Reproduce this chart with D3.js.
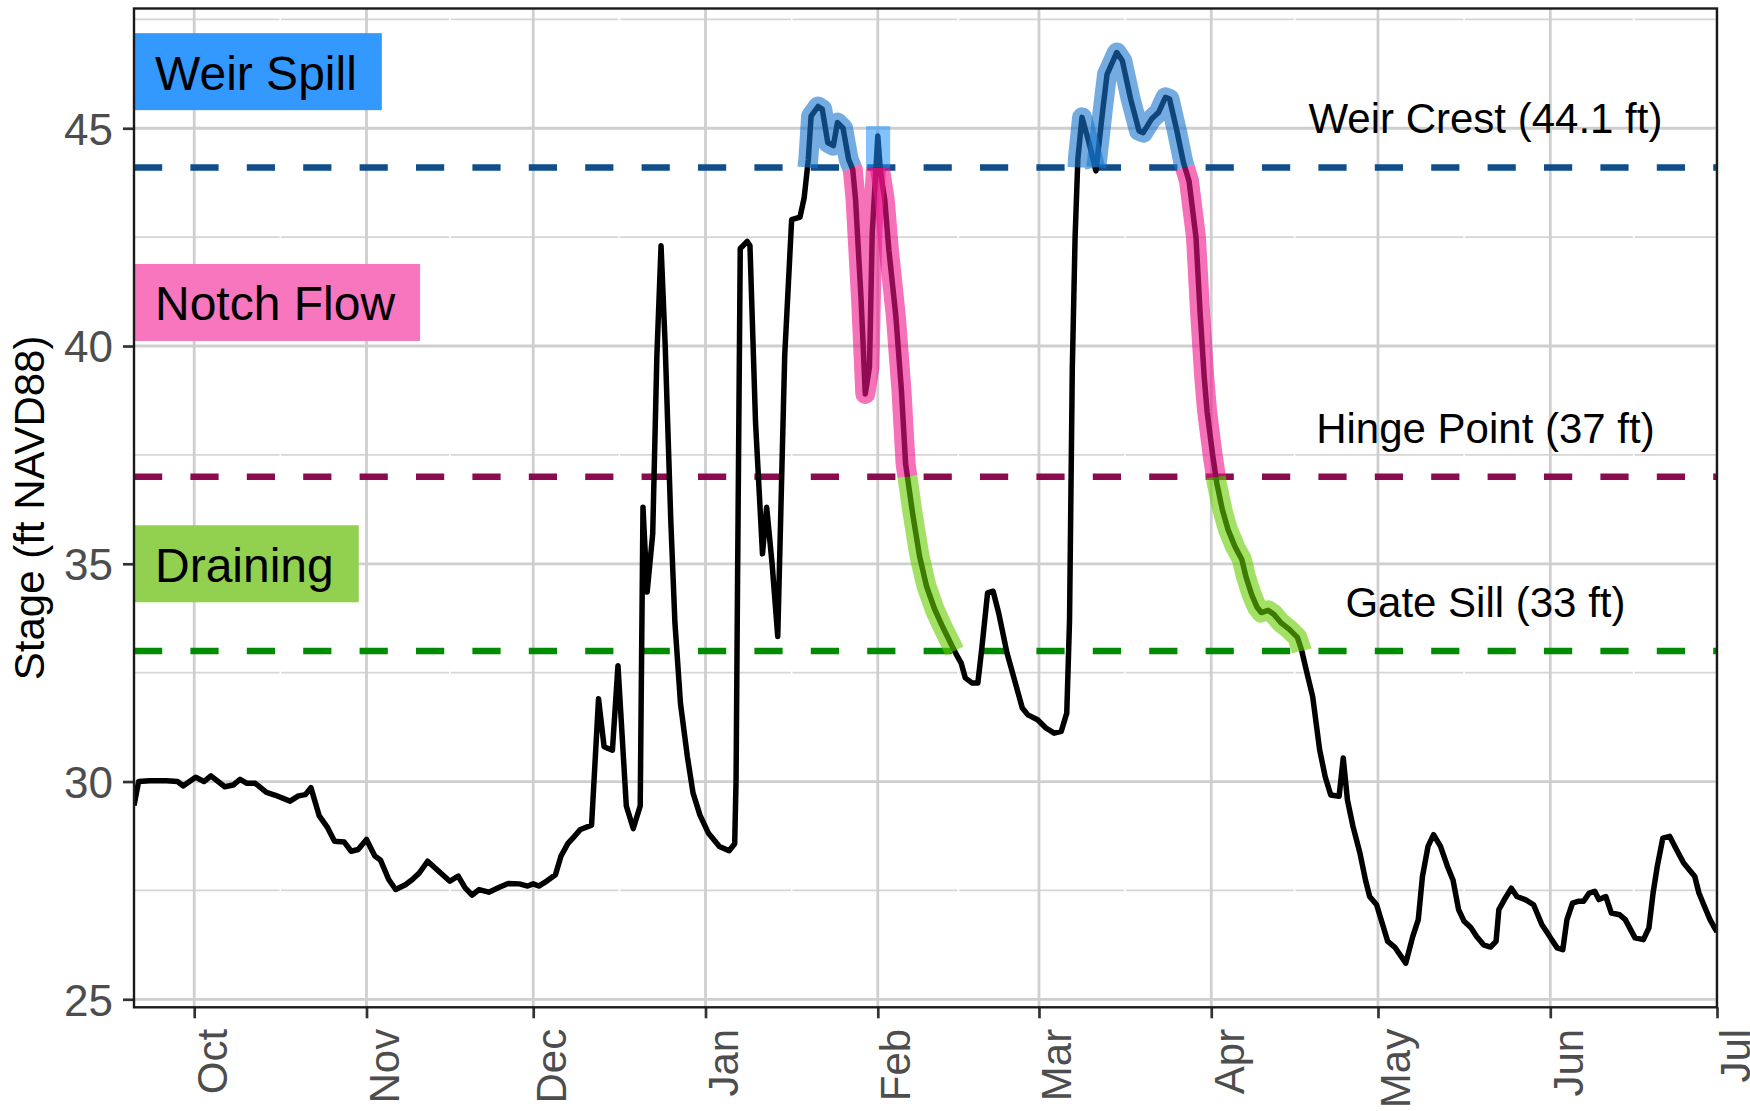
<!DOCTYPE html>
<html>
<head>
<meta charset="utf-8">
<script src="https://cdn.jsdelivr.net/npm/d3@7"></script>
<style>
  body { margin: 0; background: #ffffff; }
  svg { display: block; }
  text { font-family: "Liberation Sans", Arial, Helvetica, sans-serif; }
</style>
</head>
<body>
<svg id="chart" width="1750" height="1111"></svg>
<script>
// ---- Observed stage record (ft NAVD88), one line per month ----
const obsTime = [
  "2023-09-20 04","2023-09-21 00","2023-09-23 00","2023-09-26 00","2023-09-28 00","2023-09-29 00",
  "2023-10-01 06","2023-10-02 18","2023-10-04 00","2023-10-06 12","2023-10-08 00","2023-10-09 06","2023-10-10 12","2023-10-12 00","2023-10-14 00","2023-10-15 12","2023-10-18 06","2023-10-19 18","2023-10-21 00","2023-10-22 00","2023-10-23 12","2023-10-25 00","2023-10-26 06","2023-10-28 00","2023-10-29 06","2023-10-30 12",
  "2023-11-01 00","2023-11-02 12","2023-11-03 12","2023-11-05 00","2023-11-06 06","2023-11-08 00","2023-11-09 06","2023-11-10 12","2023-11-12 00","2023-11-14 00","2023-11-16 00","2023-11-17 12","2023-11-18 18","2023-11-20 00","2023-11-21 06","2023-11-23 00","2023-11-25 00","2023-11-26 12","2023-11-28 12","2023-11-30 00",
  "2023-12-01 00","2023-12-02 00","2023-12-03 12","2023-12-05 00","2023-12-06 00","2023-12-07 06","2023-12-08 06","2023-12-09 12","2023-12-11 12","2023-12-12 18","2023-12-13 18","2023-12-15 06","2023-12-16 06","2023-12-17 18","2023-12-19 00","2023-12-20 06","2023-12-20 18","2023-12-21 12","2023-12-22 12","2023-12-23 06","2023-12-24 00","2023-12-24 18","2023-12-25 18","2023-12-26 12","2023-12-27 12","2023-12-28 18","2023-12-29 18","2023-12-31 00",
  "2024-01-01 12","2024-01-03 12","2024-01-05 06","2024-01-06 06","2024-01-06 12","2024-01-06 18","2024-01-07 06","2024-01-08 12","2024-01-09 00","2024-01-10 00","2024-01-11 06","2024-01-12 00","2024-01-13 00","2024-01-14 00","2024-01-14 18","2024-01-15 06","2024-01-16 12","2024-01-18 00","2024-01-18 18","2024-01-19 12","2024-01-20 00","2024-01-21 06","2024-01-22 00","2024-01-23 00","2024-01-24 00","2024-01-24 18","2024-01-25 18","2024-01-26 18","2024-01-27 12","2024-01-28 00","2024-01-29 00","2024-01-29 18","2024-01-30 12","2024-01-31 00",
  "2024-02-01 00","2024-02-01 12","2024-02-02 06","2024-02-03 00","2024-02-04 06","2024-02-05 06","2024-02-06 00","2024-02-07 06","2024-02-08 12","2024-02-09 18","2024-02-11 06","2024-02-12 18","2024-02-14 06","2024-02-15 00","2024-02-16 00","2024-02-16 18","2024-02-18 00","2024-02-19 00","2024-02-19 18","2024-02-20 18","2024-02-21 18","2024-02-22 18","2024-02-24 06","2024-02-25 18","2024-02-27 00","2024-02-28 00","2024-02-29 18",
  "2024-03-02 06","2024-03-03 18","2024-03-05 00","2024-03-06 00","2024-03-06 12","2024-03-07 00","2024-03-07 12","2024-03-08 00","2024-03-08 18","2024-03-10 00","2024-03-11 06","2024-03-12 12","2024-03-13 06","2024-03-15 00","2024-03-16 00","2024-03-17 12","2024-03-19 00","2024-03-19 18","2024-03-21 06","2024-03-22 12","2024-03-23 18","2024-03-24 12","2024-03-25 18","2024-03-27 00","2024-03-28 00","2024-03-29 06","2024-03-30 00","2024-03-30 18","2024-03-31 06",
  "2024-04-01 06","2024-04-02 00","2024-04-03 00","2024-04-04 00","2024-04-05 06","2024-04-06 12","2024-04-07 06","2024-04-08 06","2024-04-09 06","2024-04-10 00","2024-04-11 06","2024-04-12 06","2024-04-13 12","2024-04-15 00","2024-04-16 12","2024-04-17 06","2024-04-18 06","2024-04-19 06","2024-04-20 12","2024-04-21 12","2024-04-22 12","2024-04-24 00","2024-04-24 18","2024-04-25 12","2024-04-26 12","2024-04-27 18","2024-04-28 18","2024-04-29 12","2024-04-30 18",
  "2024-05-01 18","2024-05-02 18","2024-05-04 00","2024-05-06 00","2024-05-07 06","2024-05-08 06","2024-05-09 00","2024-05-10 00","2024-05-11 00","2024-05-12 06","2024-05-13 12","2024-05-14 12","2024-05-15 12","2024-05-16 12","2024-05-17 18","2024-05-18 18","2024-05-20 00","2024-05-21 06","2024-05-22 06","2024-05-22 18","2024-05-23 18","2024-05-25 00","2024-05-26 00","2024-05-27 12","2024-05-29 00","2024-05-30 12","2024-05-31 12",
  "2024-06-01 06","2024-06-02 06","2024-06-03 06","2024-06-04 00","2024-06-05 00","2024-06-06 00","2024-06-07 00","2024-06-08 00","2024-06-09 00","2024-06-09 18","2024-06-11 00","2024-06-12 00","2024-06-13 12","2024-06-14 12","2024-06-16 06","2024-06-17 18","2024-06-18 18","2024-06-19 12","2024-06-20 06","2024-06-21 06","2024-06-22 12","2024-06-23 18","2024-06-25 00","2024-06-27 00","2024-06-27 18","2024-06-28 18","2024-06-29 18","2024-06-30 18",
  "2024-07-01 00"
];
const stageFt = [
  29.45, 30.00, 30.02, 30.02, 30.00, 29.90,
  30.10, 30.00, 30.13, 29.88, 29.92, 30.05, 29.96, 29.96, 29.75, 29.69, 29.55, 29.67, 29.70, 29.86, 29.21, 28.94, 28.63, 28.61, 28.40, 28.44,
  28.67, 28.29, 28.20, 27.75, 27.52, 27.63, 27.75, 27.90, 28.17, 27.94, 27.71, 27.83, 27.56, 27.39, 27.52, 27.46, 27.58, 27.66, 27.65, 27.60,
  27.65, 27.60, 27.72, 27.86, 28.29, 28.58, 28.72, 28.90, 29.00, 31.90, 30.80, 30.72, 32.66, 29.44, 28.92, 29.44, 36.30, 34.35, 35.69, 39.78, 42.30, 40.00, 36.00, 33.64, 31.79, 30.56, 29.74, 29.23,
  28.82, 28.51, 28.41, 28.57, 30.05, 34.35, 42.24, 42.40, 42.30, 38.25, 35.23, 36.30, 34.97, 33.33, 37.22, 39.78, 42.90, 42.96, 43.40, 44.29, 45.28, 45.50, 45.44, 44.67, 44.60, 45.13, 45.00, 44.29, 44.05, 43.36, 41.06, 38.90, 39.52, 42.60,
  44.82, 43.98, 43.36, 42.20, 40.68, 38.99, 37.30, 36.17, 35.18, 34.49, 33.95, 33.53, 33.14, 32.95, 32.72, 32.38, 32.26, 32.26, 33.10, 34.33, 34.37, 33.87, 32.95, 32.26, 31.69, 31.53, 31.42,
  31.23, 31.11, 31.15, 31.57, 33.70, 39.50, 42.50, 44.30, 45.25, 44.67, 44.02, 45.44, 46.24, 46.74, 46.55, 45.67, 44.94, 44.90, 45.21, 45.36, 45.71, 45.67, 44.98, 44.21, 43.79, 42.50, 40.75, 39.26, 38.50,
  37.50, 36.85, 36.24, 35.79, 35.40, 35.10, 34.70, 34.30, 34.00, 33.88, 33.93, 33.84, 33.65, 33.50, 33.31, 33.02, 32.48, 31.95, 30.73, 30.11, 29.69, 29.66, 30.54, 29.58, 28.97, 28.36, 27.74, 27.36, 27.17,
  26.75, 26.33, 26.20, 25.83, 26.44, 26.83, 27.82, 28.51, 28.78, 28.51, 28.05, 27.74, 27.06, 26.79, 26.64, 26.44, 26.25, 26.20, 26.33, 27.06, 27.29, 27.55, 27.36, 27.29, 27.17, 26.71, 26.52,
  26.37, 26.18, 26.14, 26.83, 27.21, 27.25, 27.25, 27.44, 27.48, 27.29, 27.36, 26.98, 26.94, 26.83, 26.41, 26.37, 26.64, 27.44, 28.05, 28.70, 28.74, 28.43, 28.13, 27.82, 27.44, 27.13, 26.83, 26.60,
  26.55
];

// ---- Axes ----
const timeSpan = ["2023-09-20 04", "2024-07-01 00"];
const monthTicks = ["2023-10-01 00","2023-11-01 00","2023-12-01 00","2024-01-01 00","2024-02-01 00","2024-03-01 00","2024-04-01 00","2024-05-01 00","2024-06-01 00","2024-07-01 00"];
const monthLabels = ["Oct","Nov","Dec","Jan","Feb","Mar","Apr","May","Jun","Jul"];
const stageSpan = [24.816, 47.75];
const stageTicks = [25, 30, 35, 40, 45];
const stageMinorTicks = [27.5, 32.5, 37.5, 42.5, 47.5];
const axisTitle = "Stage (ft NAVD88)";

// ---- Structure elevations ----
const refStage = [44.1, 37, 33];
const refNames = ["Weir Crest (44.1 ft)", "Hinge Point (37 ft)", "Gate Sill (33 ft)"];
const refColors = ["#104E8B", "#8B0A50", "#008B00"];
const refLabelTime = "2024-05-20 08";

// ---- Operating phases: stage band, event windows, colours, key labels ----
const phaseNames = ["Weir Spill", "Notch Flow", "Draining"];
const phaseBands = [[44.1, Infinity], [37, 44.1], [33, 37]];
const phaseWindows = [
  [["2024-01-15 00", "2024-02-03 00"], ["2024-03-05 00", "2024-03-30 00"]],
  [["2024-01-25 00", "2024-02-08 00"], ["2024-03-25 00", "2024-04-04 00"]],
  [["2024-02-05 00", "2024-02-17 00"], ["2024-04-01 00", "2024-04-19 00"]]
];
const phaseLineColors = ["#1874CD", "#EE1289", "#66CD00"];
const phaseSpotColors = ["#1E90FF", "#FF1493", "#7FFF00"];
const phaseKeyColors = ["#3399FF", "#F776BD", "#92D050"];
const phaseKeyStage = [46.3, 41, 35];

// ---------------------------------------------------------------
const parseT = d3.timeParse("%Y-%m-%d %H");
const series = obsTime.map((t, i) => ({ t: parseT(t), v: stageFt[i] }));

const W = 1750, H = 1111;
const panel = { left: 134, right: 1717, top: 8.5, bottom: 1007.3 };

const x = d3.scaleTime().domain(timeSpan.map(parseT)).range([panel.left, panel.right]);
const y = d3.scaleLinear().domain(stageSpan).range([panel.bottom, panel.top]);

const svg = d3.select("#chart");
svg.append("rect").attr("width", W).attr("height", H).attr("fill", "#ffffff");

svg.append("defs").append("clipPath").attr("id", "panel-clip")
  .append("rect")
  .attr("x", panel.left).attr("y", panel.top)
  .attr("width", panel.right - panel.left).attr("height", panel.bottom - panel.top);

const plot = svg.append("g").attr("clip-path", "url(#panel-clip)");

// grid: minor horizontals, then minor verticals (background-coloured), then majors
const tickDates = monthTicks.map(parseT);
const minorDates = d3.pairs(tickDates).map(([a, b]) => new Date((+a + +b) / 2))
  .filter(d => d > x.domain()[0] && d < x.domain()[1]);

plot.append("g").selectAll("line").data(stageMinorTicks).join("line")
  .attr("x1", panel.left).attr("x2", panel.right)
  .attr("y1", d => y(d)).attr("y2", d => y(d))
  .attr("stroke", "#d6d6d6").attr("stroke-width", 1.7);
plot.append("g").selectAll("line").data(minorDates).join("line")
  .attr("x1", d => x(d)).attr("x2", d => x(d))
  .attr("y1", panel.top).attr("y2", panel.bottom)
  .attr("stroke", "#ffffff").attr("stroke-width", 1.6);
plot.append("g").selectAll("line").data(stageTicks).join("line")
  .attr("x1", panel.left).attr("x2", panel.right)
  .attr("y1", d => y(d)).attr("y2", d => y(d))
  .attr("stroke", "#cfcfcf").attr("stroke-width", 2.8);
plot.append("g").selectAll("line").data(tickDates).join("line")
  .attr("x1", d => x(d)).attr("x2", d => x(d))
  .attr("y1", panel.top).attr("y2", panel.bottom)
  .attr("stroke", "#cfcfcf").attr("stroke-width", 2.8);

// structure elevation lines
plot.append("g").selectAll("line").data(refStage).join("line")
  .attr("x1", panel.left).attr("x2", panel.right)
  .attr("y1", d => y(d)).attr("y2", d => y(d))
  .attr("stroke", (d, i) => refColors[i])
  .attr("stroke-width", 6.5)
  .attr("stroke-dasharray", "28.2 28.2");

// stage hydrograph
const line = d3.line().x(d => x(d.t)).y(d => y(d.v));
plot.append("path")
  .datum(series)
  .attr("d", line)
  .attr("fill", "none")
  .attr("stroke", "#000000")
  .attr("stroke-width", 5.5)
  .attr("stroke-linejoin", "round");

// split a stretch of the record into pieces lying inside [lo, hi]
function bandPieces(pts, lo, hi) {
  const pieces = [];
  let cur = null;
  const inside = v => v >= lo && v <= hi;
  pts.forEach((p, i) => {
    if (i > 0) {
      const q = pts[i - 1];
      const cross = [];
      [lo, hi].forEach(th => {
        if (!isFinite(th)) return;
        if ((q.v - th) * (p.v - th) < 0) {
          const f = (th - q.v) / (p.v - q.v);
          cross.push({ t: new Date(+q.t + f * (p.t - q.t)), v: th, f });
        }
      });
      cross.sort((a, b) => a.f - b.f).forEach(c => {
        if (cur) { cur.push(c); pieces.push(cur); cur = null; }
        else cur = [c];
      });
    }
    if (inside(p.v)) { (cur = cur || []).push(p); }
    else if (cur) { pieces.push(cur); cur = null; }
  });
  if (cur) pieces.push(cur);
  return pieces.filter(pc => pc.length > 1);
}

const HW = 20; // highlight band width
const hl = plot.append("g").attr("class", "phases");
[2, 1, 0].forEach(k => {
  const [lo, hi] = phaseBands[k];
  phaseWindows[k].forEach(([a, b]) => {
    const t0 = parseT(a), t1 = parseT(b);
    const stretch = series.filter(d => d.t >= t0 && d.t <= t1);
    bandPieces(stretch, lo, hi).forEach(pc => {
      if (pc.length <= 3) {
        // brief exceedance: a single reading, marked as a block
        const xs = pc.map(d => x(d.t)), ys = pc.map(d => y(d.v));
        hl.append("rect")
          .attr("x", d3.min(xs) - HW / 2)
          .attr("y", d3.min(ys) - HW / 2)
          .attr("width", d3.max(xs) - d3.min(xs) + HW)
          .attr("height", d3.max(ys) - d3.min(ys) + HW / 2)
          .attr("fill", phaseSpotColors[k])
          .attr("fill-opacity", 0.55);
      } else {
        hl.append("path")
          .datum(pc)
          .attr("d", line)
          .attr("fill", "none")
          .attr("stroke", phaseLineColors[k])
          .attr("stroke-opacity", 0.6)
          .attr("stroke-width", HW)
          .attr("stroke-linejoin", "round")
          .attr("stroke-linecap", "butt");
      }
    });
  });
});

// structure labels
svg.append("g").selectAll("text").data(refStage).join("text")
  .attr("x", x(parseT(refLabelTime)))
  .attr("y", d => y(d) - 34)
  .attr("text-anchor", "middle")
  .attr("font-size", 42)
  .attr("fill", "#000000")
  .text((d, i) => refNames[i]);

// phase key labels
const keys = svg.append("g");
phaseNames.forEach((name, i) => {
  const cy = y(phaseKeyStage[i]);
  const g = keys.append("g");
  const rect = g.append("rect").attr("fill", phaseKeyColors[i]);
  const txt = g.append("text")
    .attr("x", panel.left + 21)
    .attr("y", cy + 18)
    .attr("font-size", 48)
    .attr("fill", "#000000")
    .text(name);
  const w = txt.node().getComputedTextLength();
  rect.attr("x", panel.left).attr("y", cy - 38.5)
    .attr("width", w + 46).attr("height", 77);
});

// axes
const xAxis = d3.axisBottom(x)
  .tickValues(tickDates)
  .tickFormat((d, i) => monthLabels[i])
  .tickSize(11);
const gx = svg.append("g")
  .attr("transform", `translate(0,${panel.bottom})`)
  .call(xAxis);
gx.select(".domain").remove();
gx.selectAll(".tick line").attr("stroke", "#333333").attr("stroke-width", 2.7);
gx.selectAll(".tick text")
  .attr("transform", "rotate(-90)")
  .attr("x", -21.5)
  .attr("y", 32)
  .attr("dy", null)
  .attr("text-anchor", "end")
  .attr("font-size", 42)
  .attr("font-family", null)
  .attr("fill", "#4d4d4d");

const yAxis = d3.axisLeft(y).tickValues(stageTicks).tickSize(11);
const gy = svg.append("g")
  .attr("transform", `translate(${panel.left},0)`)
  .call(yAxis);
gy.select(".domain").remove();
gy.selectAll(".tick line").attr("stroke", "#333333").attr("stroke-width", 2.7);
gy.selectAll(".tick text")
  .attr("x", -21)
  .attr("dy", "0.36em")
  .attr("font-size", 44)
  .attr("font-family", null)
  .attr("fill", "#4d4d4d");

svg.append("text")
  .attr("transform", `translate(44,${(panel.top + panel.bottom) / 2}) rotate(-90)`)
  .attr("text-anchor", "middle")
  .attr("font-size", 42)
  .attr("fill", "#000000")
  .text(axisTitle);

// panel border
svg.append("rect")
  .attr("x", panel.left).attr("y", panel.top)
  .attr("width", panel.right - panel.left).attr("height", panel.bottom - panel.top)
  .attr("fill", "none").attr("stroke", "#1a1a1a").attr("stroke-width", 2.4);
</script>
</body>
</html>
